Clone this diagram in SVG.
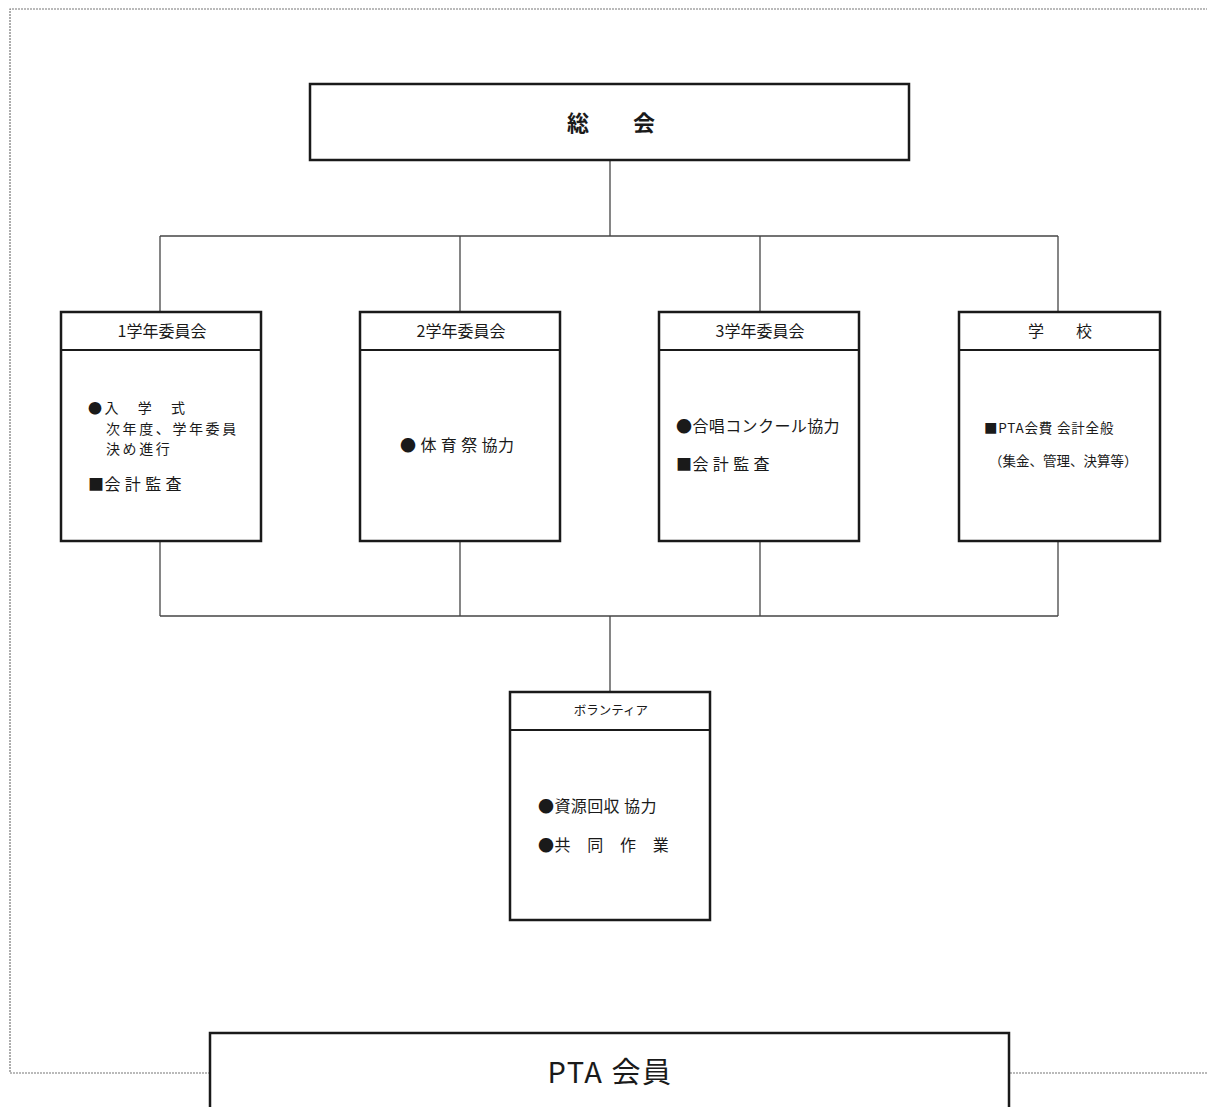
<svg xmlns="http://www.w3.org/2000/svg" width="1207" height="1107" viewBox="0 0 1207 1107">
<style>
.box{fill:#fff;stroke:#1a1a1a;stroke-width:2.5}
.div{stroke:#1a1a1a;stroke-width:2}
.con{stroke:#444;stroke-width:1.3;fill:none}
.frame{stroke:#777;stroke-width:1.2;stroke-dasharray:2 1;fill:none}
text{font-family:"Noto Sans CJK JP","Liberation Sans",sans-serif;fill:#1a1a1a}
.hd{font-size:16px;text-anchor:middle}
.bd{font-size:16px;letter-spacing:0.4px}
.b1{font-size:14px;letter-spacing:2.6px}
.sm{font-size:13.5px}
</style>
<rect width="1207" height="1107" fill="#fff"/>
<g id="frame">
<polyline class="frame" points="210,1073 10,1073 10,9 1207,9"/>
<line class="frame" x1="1010" y1="1073" x2="1207" y2="1073"/>
</g>
<g id="connectors">
<line class="con" x1="610" y1="160" x2="610" y2="236"/>
<line class="con" x1="160" y1="236" x2="1058" y2="236"/>
<line class="con" x1="160" y1="236" x2="160" y2="312"/>
<line class="con" x1="460" y1="236" x2="460" y2="312"/>
<line class="con" x1="760" y1="236" x2="760" y2="312"/>
<line class="con" x1="1058" y1="236" x2="1058" y2="312"/>
<line class="con" x1="160" y1="541" x2="160" y2="616"/>
<line class="con" x1="460" y1="541" x2="460" y2="616"/>
<line class="con" x1="760" y1="541" x2="760" y2="616"/>
<line class="con" x1="1058" y1="541" x2="1058" y2="616"/>
<line class="con" x1="160" y1="616" x2="1058" y2="616"/>
<line class="con" x1="610" y1="616" x2="610" y2="692"/>
</g>
<g id="soukai">
<rect class="box" x="310" y="84" width="599" height="76"/>
<text x="611" y="131" font-size="22" font-weight="bold" text-anchor="middle">総　　会</text>
</g>
<g id="grade1">
<rect class="box" x="61" y="312" width="200" height="229"/>
<line class="div" x1="61" y1="350" x2="261" y2="350"/>
<text class="hd" x="162" y="337">1学年委員会</text>
<text class="b1" x="88" y="413">●入　学　式</text>
<text class="b1" x="106" y="433.5">次年度、学年委員</text>
<text class="b1" x="106" y="454">決め進行</text>
<text class="bd" x="88" y="490" letter-spacing="2.5">■会 計 監 査</text>
</g>
<g id="grade2">
<rect class="box" x="360" y="312" width="200" height="229"/>
<line class="div" x1="360" y1="350" x2="560" y2="350"/>
<text class="hd" x="461" y="337">2学年委員会</text>
<text class="bd" x="400" y="451" letter-spacing="2.6">● 体 育 祭 協力</text>
</g>
<g id="grade3">
<rect class="box" x="659" y="312" width="200" height="229"/>
<line class="div" x1="659" y1="350" x2="859" y2="350"/>
<text class="hd" x="760" y="337">3学年委員会</text>
<text class="bd" x="676" y="432">●合唱コンクール協力</text>
<text class="bd" x="676" y="470" letter-spacing="2.5">■会 計 監 査</text>
</g>
<g id="school">
<rect class="box" x="959" y="312" width="201" height="229"/>
<line class="div" x1="959" y1="350" x2="1160" y2="350"/>
<text class="hd" x="1060" y="337">学　　校</text>
<text class="sm" x="984" y="433" letter-spacing="0.8">■PTA会費 会計全般</text>
<text class="sm" x="989" y="466">（集金、管理、決算等）</text>
</g>
<g id="volunteer">
<rect class="box" x="510" y="692" width="200" height="228"/>
<line class="div" x1="510" y1="730" x2="710" y2="730"/>
<text x="611" y="715" font-size="12.5" text-anchor="middle">ボランティア</text>
<text class="bd" x="538" y="812">●資源回収 協力</text>
<text class="bd" x="538" y="851">●共　同　作　業</text>
</g>
<g id="members">
<rect class="box" x="210" y="1033" width="799" height="90"/>
<text x="610" y="1083" font-size="29" letter-spacing="1.5" text-anchor="middle">PTA  会員</text>
</g>
</svg>
